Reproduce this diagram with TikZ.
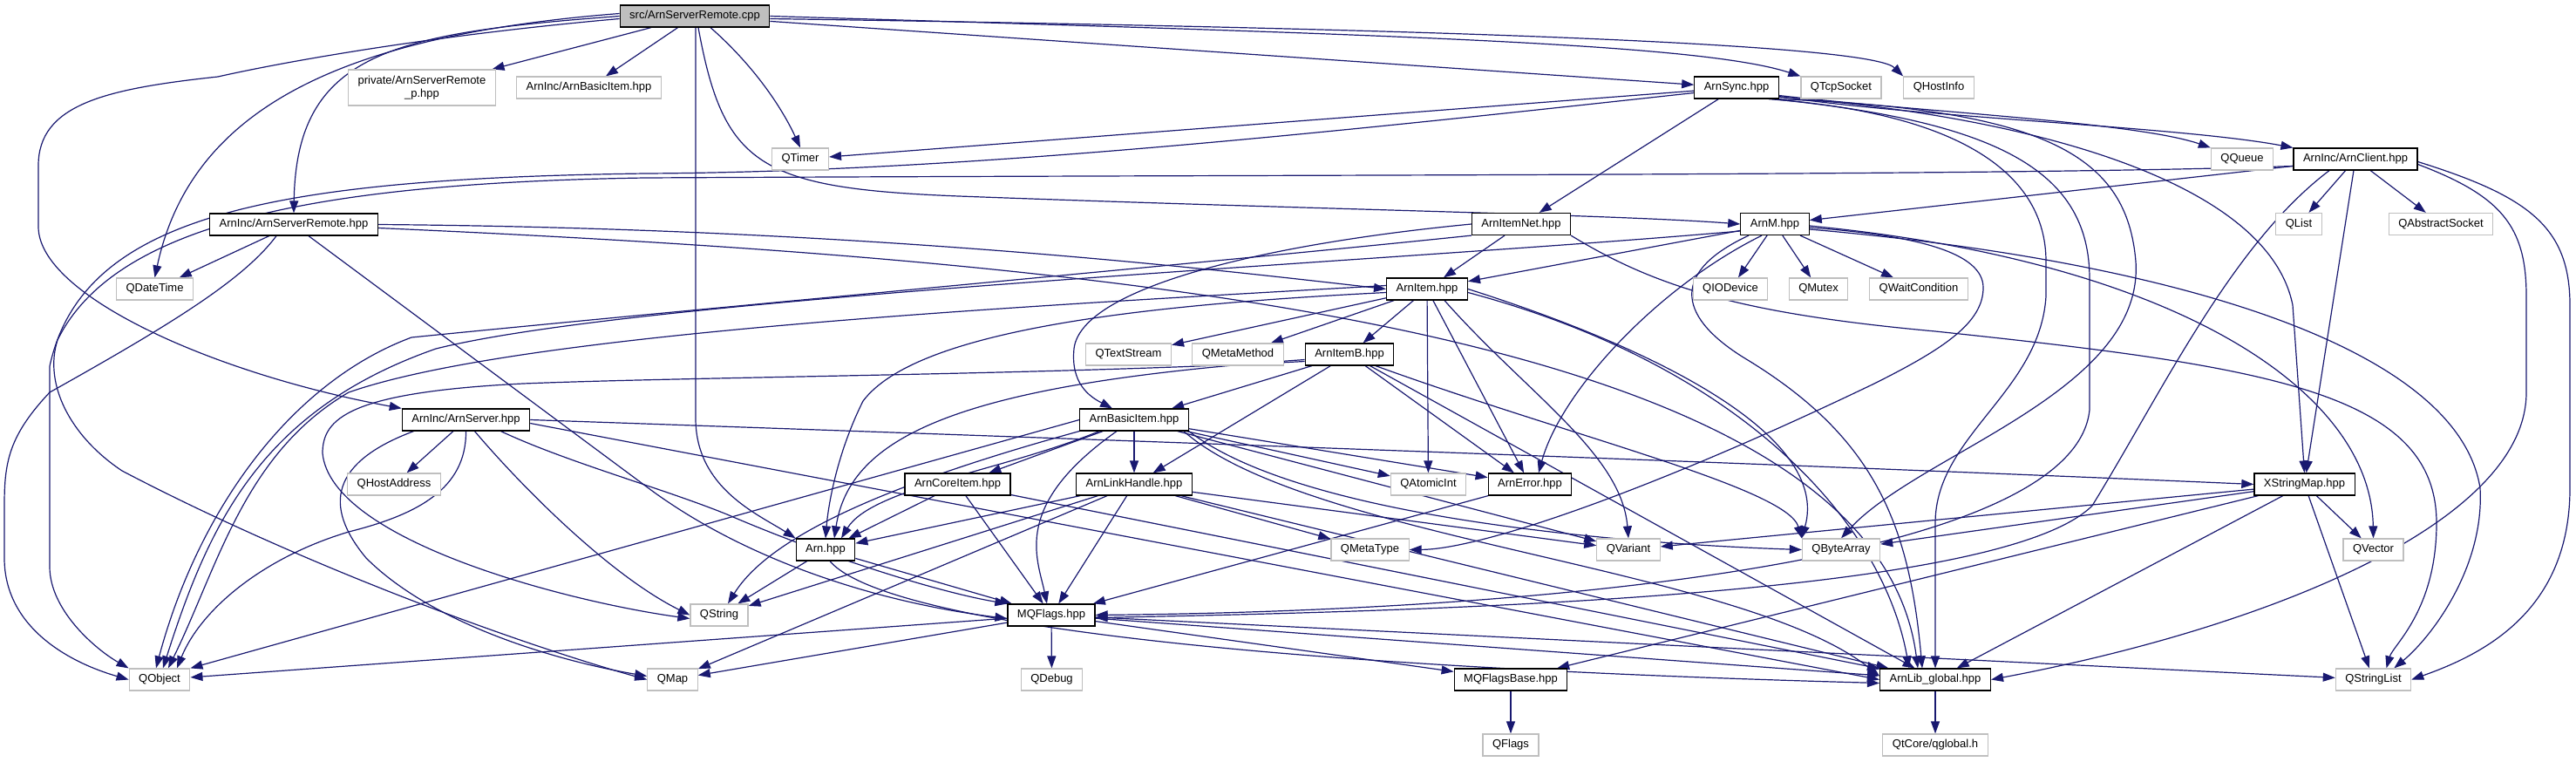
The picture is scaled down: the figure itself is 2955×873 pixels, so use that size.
\documentclass[tikz,border=0pt]{standalone}
\usepackage{fontspec}
\setmainfont{Liberation Sans}
\usetikzlibrary{arrows.meta}
\definecolor{edgec}{HTML}{191970}
\definecolor{gbord}{HTML}{BFBFBF}
\definecolor{srcfill}{HTML}{BFBFBF}
\pgfdeclarelayer{bg}
\pgfsetlayers{bg,main}
\tikzset{
  nb/.style={draw=black, line width=1.2pt, fill=white, inner xsep=11pt, inner ysep=0pt,
    minimum height=25pt, text height=9.5pt, text depth=2.8pt, font=\fontsize{13}{15}\selectfont},
  ng/.style={nb, draw=gbord},
  ns/.style={nb, fill=srcfill},
  e/.style={draw=edgec, line width=1.2pt, -{Triangle[length=14pt,width=10pt]}},
}
\begin{document}
\begin{tikzpicture}[x=1pt,y=-1pt]
\useasboundingbox (0,0) rectangle (2955,873);
% row 0
\node[ns] (src) at (797,18.5) {src/ArnServerRemote.cpp};
% row 1
\node[ng, align=center, minimum height=41pt, text height=, text depth=] (priv) at (484,100.5) {private/ArnServerRemote\\\_p.hpp};
\node[ng] (bii) at (675.5,100.5) {ArnInc/ArnBasicItem.hpp};
\node[nb] (sync) at (1992,100.5) {ArnSync.hpp};
\node[ng] (tcp) at (2112,100.5) {QTcpSocket};
\node[ng] (hinfo) at (2224,100.5) {QHostInfo};
% row 2
\node[ng] (qtimer) at (918,182.5) {QTimer};
\node[ng] (qqueue) at (2572,182.5) {QQueue};
\node[nb] (client) at (2702,182.5) {ArnInc/ArnClient.hpp};
% row 3
\node[nb] (sri) at (337,257.5) {ArnInc/ArnServerRemote.hpp};
\node[nb] (itemnet) at (1745,257) {ArnItemNet.hpp};
\node[nb] (arnm) at (2036,257) {ArnM.hpp};
\node[ng] (qlist) at (2637,257) {QList};
\node[ng] (qas) at (2800,257) {QAbstractSocket};
% row 4
\node[ng] (qdt) at (177.5,331.5) {QDateTime};
\node[nb] (item) at (1637,331.5) {ArnItem.hpp};
\node[ng] (qiod) at (1985,331.5) {QIODevice};
\node[ng] (qmutex) at (2086,331.5) {QMutex};
\node[ng] (qwc) at (2201,331.5) {QWaitCondition};
% row 5
\node[ng] (qts) at (1294.5,406.5) {QTextStream};
\node[ng] (qmm) at (1420,406.5) {QMetaMethod};
\node[nb] (itemb) at (1548,406.5) {ArnItemB.hpp};
% row 6
\node[nb] (si) at (534.5,481.5) {ArnInc/ArnServer.hpp};
\node[nb] (bi) at (1301,481.5) {ArnBasicItem.hpp};
% row 7
\node[ng] (qha) at (452,555.5) {QHostAddress};
\node[nb] (core) at (1098.5,555.5) {ArnCoreItem.hpp};
\node[nb] (lh) at (1301,555.5) {ArnLinkHandle.hpp};
\node[ng] (qai) at (1638.5,555.5) {QAtomicInt};
\node[nb] (err) at (1755,555.5) {ArnError.hpp};
\node[nb] (xsm) at (2643.5,555.5) {XStringMap.hpp};
% row 8
\node[nb] (arn) at (947,630.5) {Arn.hpp};
\node[ng] (qmt) at (1571.5,630.5) {QMetaType};
\node[ng] (qvar) at (1868,630.5) {QVariant};
\node[ng] (qba) at (2112,630.5) {QByteArray};
\node[ng] (qvec) at (2722.5,630.5) {QVector};
% row 9
\node[ng] (qstr) at (825,705.5) {QString};
\node[nb] (mqf) at (1206,705.5) {MQFlags.hpp};
% row 10
\node[ng] (qobj) at (183,779.5) {QObject};
\node[ng] (qmap) at (771.5,779.5) {QMap};
\node[ng] (qdebug) at (1206.5,779.5) {QDebug};
\node[nb] (mqfb) at (1733,779.5) {MQFlagsBase.hpp};
\node[nb] (lib) at (2220,779.5) {ArnLib\_global.hpp};
\node[ng] (qsl) at (2722.5,779.5) {QStringList};
% row 11
\node[ng] (qflags) at (1733,854.5) {QFlags};
\node[ng] (qglobal) at (2220,854.5) {QtCore/qglobal.h};

\begin{pgfonlayer}{bg}
% src
\draw[e] (src) -- (priv);
\draw[e] (src) -- (bii);
\draw[e] ([xshift=18pt]src.south) .. controls (870,80) and (900,130) .. (qtimer.north);
\draw[e] (src) -- (sync);
\draw[e] (src.east) .. controls (1600,40) and (1950,50) .. (tcp.north west);
\draw[e] ([yshift=-3pt]src.east) .. controls (1800,35) and (2150,55) .. (hinfo.north west);
\draw[e] (src.west) .. controls (450,38) and (340,60) .. (sri.north);
\draw[e] ([yshift=-3pt]src.west) .. controls (500,40) and (330,70) .. (250,88) .. controls (120,102) and (44,120) .. (44,190) -- (44,260) .. controls (44,340) and (250,430) .. (si.north west);
\draw[e] ([yshift=3pt]src.west) .. controls (400,40) and (220,120) .. (qdt.north);
\draw[e] ([xshift=1pt]src.south) -- (798,480) .. controls (798,560) and (870,590) .. (arn.north west);
\draw[e] ([xshift=4pt]src.south) .. controls (830,190) and (870,216) .. (1100,225) .. controls (1500,240) and (1850,246) .. (arnm.west);
% ArnSync
\draw[e] (sync) -- (qtimer);
\draw[e] ([yshift=-6pt]sync.west) .. controls (1500,155) and (1100,197) .. (740,199) .. controls (300,205) and (94,250) .. (57,420) -- (57,650) .. controls (57,700) and (110,745) .. (qobj.north west);
\draw[e] (sync) -- (itemnet);
\draw[e] ([yshift=-9pt]sync.east) .. controls (2200,128) and (2450,140) .. (qqueue.north west);
\draw[e] ([yshift=-10pt]sync.east) .. controls (2200,135) and (2500,145) .. (client.north west);
\draw[e] ([yshift=-11pt]sync.east) .. controls (2300,130) and (2600,200) .. (2630,350) -- (xsm.north);
\draw[e] ([xshift=-4pt]sync.south east) .. controls (2350,125) and (2440,180) .. (2450,300) .. controls (2460,450) and (2200,520) .. (qba.north);
\draw[e] ([xshift=-8pt]sync.south east) .. controls (2300,140) and (2397,200) .. (2397,320) -- (2397,470) .. controls (2380,640) and (1800,700) .. (mqf.east);
\draw[e] ([xshift=-12pt]sync.south east) .. controls (2250,130) and (2347,200) .. (2347,300) -- (2347,340) .. controls (2340,450) and (2220,500) .. (2220,600) -- (lib.north);
% ArnClient
\draw[e] (client) -- (arnm);
\draw[e] (client) -- (qlist);
\draw[e] (client) -- (qas);
\draw[e] (client) -- (xsm);
\draw[e] ([yshift=-3pt]client.east) .. controls (2900,225) and (2948,260) .. (2948,350) -- (2948,560) .. controls (2948,700) and (2850,750) .. (qsl.east);
\draw[e] ([yshift=-6pt]client.east) .. controls (2870,225) and (2898,260) .. (2898,340) -- (2898,450) .. controls (2898,600) and (2600,720) .. (lib.east);
\draw[e] ([xshift=-30pt]client.south) .. controls (2560,280) and (2480,450) .. (2400,580) .. controls (2300,680) and (1700,700) .. ([yshift=-3pt]mqf.east);
\draw[e] ([yshift=-8pt]client.west) .. controls (2300,202) and (1500,200) .. (740,204) .. controls (350,210) and (130,260) .. (66,390) .. controls (50,440) and (80,500) .. (140,540) .. controls (350,650) and (600,740) .. (qmap.west);
% ArnServerRemote.hpp
\draw[e] (sri) -- (qdt);
\draw[e] ([xshift=-20pt]sri.south) .. controls (280,320) and (200,370) .. (57,450) .. controls (10,500) and (5,530) .. (5,580) -- (5,640) .. controls (5,720) and (80,760) .. (qobj.west);
\draw[e] ([xshift=17pt]sri.south) -- (740,557) .. controls (850,640) and (1000,690) .. ([yshift=-4pt]mqf.west);
\draw[e] (sri.east) .. controls (1000,262) and (1400,310) .. (item.west);
\draw[e] ([yshift=-4pt]sri.east) .. controls (1300,300) and (2150,380) .. ([xshift=-20pt]lib.north);
% ArnServer.hpp
\draw[e] (si) -- (qha);
\draw[e] (si.south) .. controls (535,560) and (480,590) .. (400,610) .. controls (300,640) and (230,700) .. ([xshift=20pt]qobj.north);
\draw[e] ([xshift=10pt]si.south) .. controls (600,560) and (700,660) .. (qstr.west);
\draw[e] ([xshift=-60pt]si.south) .. controls (380,530) and (370,580) .. (420,640) .. controls (500,720) and (650,760) .. ([yshift=4pt]qmap.west);
\draw[e] ([xshift=40pt]si.south) .. controls (650,530) and (760,560) .. (834,590) .. controls (950,640) and (1080,680) .. (mqf.north west);
\draw[e] (si.east) .. controls (1000,495) and (2000,530) .. (xsm.west);
\draw[e] ([yshift=-4pt]si.east) -- (lib.west);
% ArnM
\draw[e] (arnm) -- (qiod);
\draw[e] (arnm) -- (qmutex);
\draw[e] (arnm) -- (qwc);
\draw[e] (arnm) -- (item);
\draw[e] ([xshift=-15pt]arnm.south) .. controls (1900,330) and (1790,450) .. ([xshift=10pt]err.north);
\draw[e] ([yshift=-8pt]arnm.west) .. controls (1600,300) and (740,340) .. (500,400) .. controls (300,470) and (240,600) .. ([xshift=4pt]qobj.north);
\draw[e] ([yshift=-4pt]arnm.east) .. controls (2200,270) and (2275,290) .. (2275,330) .. controls (2275,370) and (2230,400) .. (2150,440) .. controls (1900,560) and (1700,630) .. (qmt.east);
\draw[e] ([yshift=-2pt]arnm.east) .. controls (2500,300) and (2720,450) .. (qvec.north);
\draw[e] ([yshift=-6pt]arnm.east) .. controls (2500,300) and (2820,400) .. (2845,560) .. controls (2850,650) and (2790,730) .. ([xshift=-20pt]qsl.north east);
\draw[e] ([xshift=-30pt]arnm.south) .. controls (1920,310) and (1920,360) .. (2000,410) .. controls (2150,500) and (2190,600) .. ([xshift=-15pt]lib.north);
% ArnItem
\draw[e] (item) -- (itemb);
\draw[e] (item) -- (qts);
\draw[e] (item) -- (qmm);
\draw[e] (item) -- (qai);
\draw[e] (item) -- (err);
\draw[e] ([xshift=20pt]item.south) .. controls (1750,450) and (1860,520) .. (qvar.north);
\draw[e] (item.east) .. controls (1900,400) and (2100,500) .. (qba.north west);
\draw[e] ([yshift=-4pt]item.east) .. controls (2000,420) and (2160,600) .. ([xshift=-30pt]lib.north);
\draw[e] ([yshift=4pt]item.west) .. controls (1200,350) and (600,380) .. (400,450) .. controls (280,520) and (250,650) .. ([xshift=10pt]qobj.north);
\draw[e] ([yshift=-4pt]item.west) .. controls (1300,350) and (1050,380) .. (990,460) .. controls (960,520) and (950,580) .. (arn.north);
% ArnItemB
\draw[e] (itemb) -- (bi);
\draw[e] (itemb) -- (lh);
\draw[e] ([yshift=-6pt]itemb.west) .. controls (1100,440) and (975,500) .. ([xshift=10pt]arn.north);
\draw[e] (itemb) -- (err);
\draw[e] ([xshift=30pt]itemb.south) .. controls (1800,500) and (2050,560) .. (qba.north west);
\draw[e] (itemb) -- (lib);
\draw[e] ([yshift=-8pt]itemb.west) .. controls (1200,430) and (800,432) .. (600,440) .. controls (400,450) and (370,480) .. (370,520) .. controls (380,620) and (650,690) .. ([yshift=-4pt]qstr.west);
% ArnItemNet
\draw[e] (itemnet) -- (item);
\draw[e] (itemnet.west) .. controls (1450,280) and (1240,330) .. (1232,400) .. controls (1228,440) and (1250,455) .. ([xshift=-25pt]bi.north);
\draw[e] (itemnet.south east) .. controls (1900,330) and (2000,360) .. (2220,380) .. controls (2600,420) and (2795,450) .. (2795,600) .. controls (2795,700) and (2745,740) .. ([xshift=15pt]qsl.north);
\draw[e] (itemnet.south west) .. controls (1400,300) and (740,360) .. (472,387) .. controls (330,440) and (226,590) .. ([xshift=-4pt]qobj.north);
% ArnBasicItem
\draw[e] (bi) -- (core);
\draw[e] (bi) -- (lh);
\draw[e] ([xshift=-40pt]bi.south) .. controls (1150,540) and (1000,560) .. ([xshift=18pt]arn.north);
\draw[e] (bi.south west) .. controls (1000,560) and (880,620) .. ([xshift=10pt]qstr.north);
\draw[e] (bi.west) -- (qobj.north east);
\draw[e] ([xshift=-20pt]bi.south) .. controls (1160,580) and (1190,640) .. ([xshift=-5pt]mqf.north);
\draw[e] (bi) -- (qai);
\draw[e] (bi) -- (err);
\draw[e] (bi) -- (qvar);
\draw[e] (bi.south east) .. controls (1500,600) and (1900,625) .. (qba.west);
\draw[e] ([xshift=-6pt]bi.south east) .. controls (1500,620) and (2000,650) .. ([yshift=4pt]lib.west);
% ArnCoreItem
\draw[e] (core) -- (arn);
\draw[e] (core) -- (mqf);
\draw[e] (core) -- (lib);
% ArnLinkHandle
\draw[e] (lh) -- (qstr);
\draw[e] (lh) -- (qmap);
\draw[e] (lh) -- (arn);
\draw[e] (lh) -- (mqf);
\draw[e] (lh) -- (qmt);
\draw[e] (lh) -- (qvar);
\draw[e] (lh) -- (lib);
% ArnError
\draw[e] (err) -- (mqf);
% Arn
\draw[e] (arn) -- (qstr);
\draw[e] (arn) -- (mqf);
\draw[e] ([xshift=5pt]arn.south) .. controls (1000,700) and (1300,760) .. ([yshift=-4pt]lib.west);
% XStringMap
\draw[e] (xsm) -- (qvar);
\draw[e] (xsm) -- (qba);
\draw[e] (xsm) -- (qvec);
\draw[e] (xsm) -- (qsl);
\draw[e] (xsm) -- (lib);
\draw[e] (xsm) -- (mqfb);
% MQFlags
\draw[e] (mqf) -- (qobj);
\draw[e] (mqf) -- (qmap);
\draw[e] (mqf) -- (qdebug);
\draw[e] (mqf) -- (mqfb);
\draw[e] (mqf) -- (lib);
\draw[e] (mqf) -- (qsl);
% bottom
\draw[e] (mqfb) -- (qflags);
\draw[e] (lib) -- (qglobal);
\end{pgfonlayer}
\end{tikzpicture}
\end{document}
